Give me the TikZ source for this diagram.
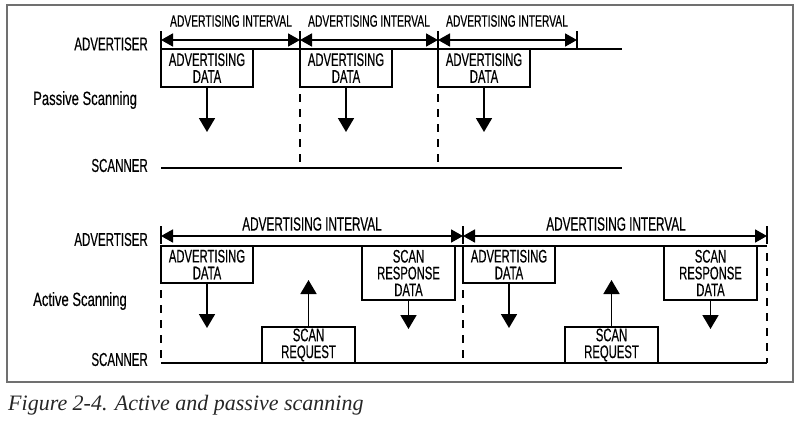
\documentclass[tikz,border=0pt]{standalone}
\usepackage{fontspec}
\usetikzlibrary{arrows.meta}
\newfontfamily\cond[FakeStretch=0.62,FakeBold=0.4]{Liberation Sans}
\newfontfamily\condm[FakeStretch=0.68,FakeBold=0.3]{Liberation Sans}
\newfontfamily\capserif{Liberation Serif}
\definecolor{framegray}{HTML}{707070}
\tikzset{
  ln/.style={line width=1.8pt},
  lbl/.style={font=\cond\fontsize{18.6}{19}\selectfont, anchor=east, inner sep=0pt},
  mode/.style={font=\condm\fontsize{19.2}{19}\selectfont, anchor=west, inner sep=0pt},
  ivl/.style={font=\cond\fontsize{#1}{17}\selectfont, inner sep=0pt},
  pkt/.style={draw, line width=1.8pt, anchor=north west, inner sep=0pt, outer sep=0pt,
    align=center, font=\cond\fontsize{18.2}{16.8}\selectfont},
  varr/.style={ln, -{Triangle[length=14pt,width=16pt]}},
  iarr/.style={ln, {Triangle[length=12pt,width=13pt]}-{Triangle[length=12pt,width=13pt]}},
  dsh/.style={ln, dash pattern=on 8pt off 7pt, dash phase=8pt},
}
\begin{document}
\begin{tikzpicture}[x=1pt,y=-1pt]
\useasboundingbox (0,0) rectangle (805,434);
% frame
\draw[framegray, line width=1.6pt] (7,5) rectangle (793,382);

% ---------------- Passive scanning ----------------
\node[lbl] (padv) at (148,44) {ADVERTISER};
\node[lbl] (pscn) at (148,165.5) {SCANNER};
\node[mode] (pmode) at (33,100) {Passive Scanning};

\coordinate (pt0) at (161,40);
\coordinate (pt1) at (300,40);
\coordinate (pt2) at (438,40);
\coordinate (pt3) at (577,40);
\foreach \c in {pt0,pt1,pt2,pt3} {\draw[ln] ([yshift=-8pt]\c) -- ([yshift=9pt]\c);}
\draw[iarr] (pt0) -- (pt1);
\draw[iarr] (pt1) -- (pt2);
\draw[iarr] (pt2) -- (pt3);
\node[ivl=16.6] (pi1) at (231,21) {ADVERTISING INTERVAL};
\node[ivl=16.6] (pi2) at (369,21) {ADVERTISING INTERVAL};
\node[ivl=16.6] (pi3) at (507,21) {ADVERTISING INTERVAL};

\coordinate (pal) at (161,49);
\coordinate (par) at (622,49);
\draw[ln] (pal) -- (par);
\coordinate (psl) at (161,168);
\coordinate (psr) at (622,168);
\draw[ln] (psl) -- (psr);

\node[pkt, minimum width=92pt, minimum height=38pt] (pa1) at (161,49) {ADVERTISING\\DATA};
\node[pkt, minimum width=92pt, minimum height=38pt] (pa2) at (300,49) {ADVERTISING\\DATA};
\node[pkt, minimum width=92pt, minimum height=38pt] (pa3) at (438,49) {ADVERTISING\\DATA};
\draw[varr] (pa1.south) -- ++(0,45);
\draw[varr] (pa2.south) -- ++(0,45);
\draw[varr] (pa3.south) -- ++(0,45);
\draw[dsh] (pa2.south west) -- (pa2.south west |- psl);
\draw[dsh] (pa3.south west) -- (pa3.south west |- psl);

% ---------------- Active scanning ----------------
\node[lbl] (aadv) at (148,239.5) {ADVERTISER};
\node[lbl] (ascn) at (148,359.5) {SCANNER};
\node[mode] (amode) at (33,301) {Active Scanning};

\coordinate (at0) at (161,236);
\coordinate (at1) at (463,236);
\coordinate (at2) at (767,236);
\foreach \c in {at0,at1,at2} {\draw[ln] ([yshift=-8pt]\c) -- ([yshift=10pt]\c);}
\draw[iarr] (at0) -- (at1);
\draw[iarr] (at1) -- (at2);
\node[ivl=19] (ai1) at (312,224) {ADVERTISING INTERVAL};
\node[ivl=19] (ai2) at (616,224) {ADVERTISING INTERVAL};

\coordinate (aal) at (161,246);
\coordinate (aar) at (767,246);
\draw[ln] (aal) -- (aar);
\coordinate (asl) at (161,363);
\coordinate (asr) at (767,363);
\draw[ln] (asl) -- (asr);

\node[pkt, minimum width=92pt, minimum height=37pt] (aa1) at (161,246) {ADVERTISING\\DATA};
\node[pkt, minimum width=92pt, minimum height=37pt] (aa2) at (463,246) {ADVERTISING\\DATA};
\node[pkt, minimum width=93pt, minimum height=54pt] (sr1) at (362,246) {SCAN\\RESPONSE\\DATA};
\node[pkt, minimum width=93pt, minimum height=54pt] (sr2) at (664,246) {SCAN\\RESPONSE\\DATA};
\node[pkt, minimum width=93pt, minimum height=36pt] (rq1) at (262,327) {SCAN\\REQUEST};
\node[pkt, minimum width=93pt, minimum height=36pt] (rq2) at (565,327) {SCAN\\REQUEST};

\draw[varr] (aa1.south) -- ++(0,45);
\draw[varr] (aa2.south) -- ++(0,45);
\draw[varr] (sr1.south) -- ++(0,29);
\draw[varr] (sr2.south) -- ++(0,29);
\draw[varr] (rq1.north) -- ++(0,-47);
\draw[varr] (rq2.north) -- ++(0,-47);

\draw[dsh] (aa1.south west) -- (aa1.south west |- asl);
\draw[dsh] (aa2.south west) -- (aa2.south west |- asl);
\draw[dsh] (aar) -- (asr);

% caption
\node[font=\capserif\itshape\fontsize{22}{24}\selectfont, anchor=base west, inner sep=0pt, text=black!85] (cap) at (8,410) {Figure 2-4. Active and passive scanning};
\end{tikzpicture}
\end{document}
